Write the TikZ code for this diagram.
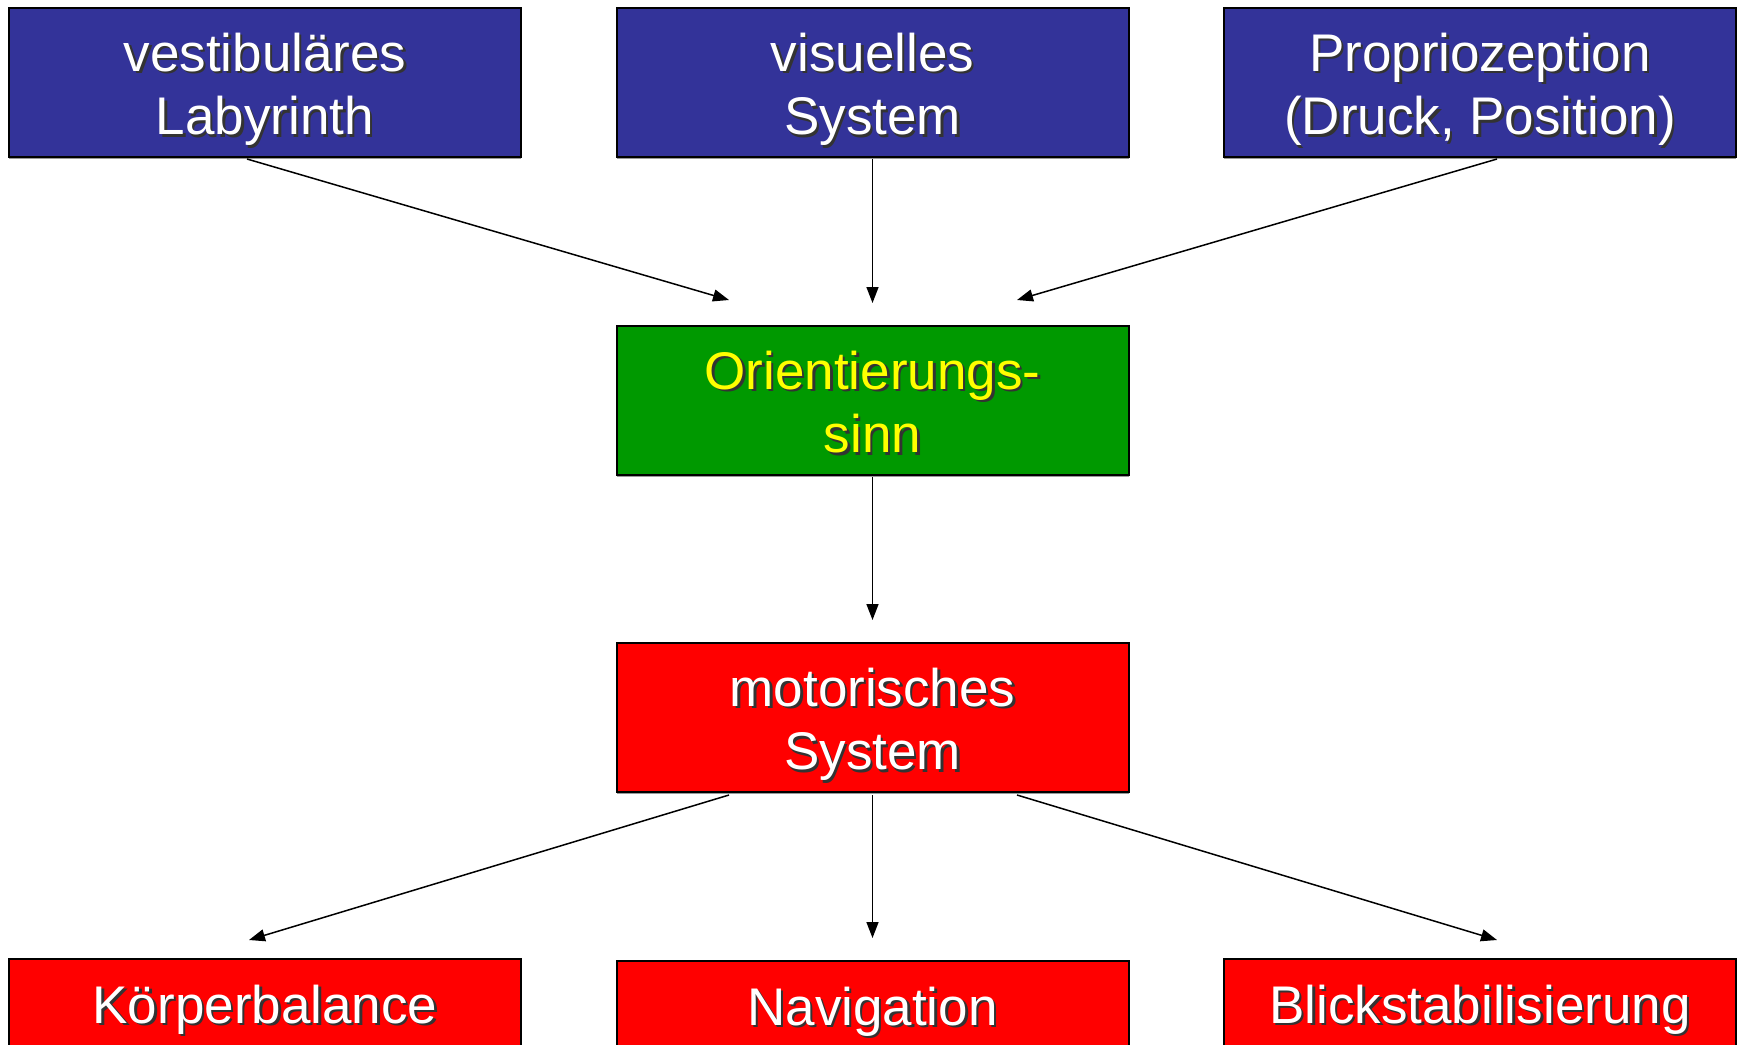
\documentclass[tikz,border=0pt]{standalone}
\usepackage{fontspec}
\setmainfont{Liberation Sans}
\usepackage{xcolor}
\usetikzlibrary{calc,arrows.meta,shadows}

\definecolor{sysblue}{HTML}{333399}
\definecolor{sinngreen}{HTML}{009900}
\definecolor{motorred}{HTML}{FF0000}
\definecolor{textyellow}{HTML}{FFFF00}

% text with a small dark shadow
\newcommand{\shtext}[1]{\leavevmode\rlap{\raisebox{-1.2pt}{\kern1.2pt\textcolor{black!80}{#1}}}#1}
% two shadowed lines, set a little low as in the slide
\newcommand{\twolines}[2]{\begin{tabular}{@{}c@{}}\rule{0pt}{30pt}\shtext{#1}\\\shtext{#2}\end{tabular}}

\begin{document}
\begin{tikzpicture}[x=0.5pt, y=-0.5pt,
    box/.style={rectangle, draw=black, line width=1pt, inner sep=0pt,
        minimum width=256pt, minimum height=74.5pt,
        font=\fontsize{26.5}{31.8}\selectfont,
        drop shadow={shadow xshift=0pt, shadow yshift=-0.9pt, fill=black!40, opacity=1}},
    sensebox/.style={box, fill=sysblue, text=white},
    sinnbox/.style={box, fill=sinngreen, text=textyellow},
    motorbox/.style={box, fill=motorred, text=white},
    outbox/.style={motorbox, minimum height=52pt},
    arr/.style={-{Triangle[length=8pt,width=6pt]}, line width=0.75pt}]
    \clip (0,0) rectangle (1745,1044);

    % input systems
    \node[sensebox] (vest) at (265,82.5) {\twolines{vestibuläres}{Labyrinth}};
    \node[sensebox] (visu) at (872.5,82.5) {\twolines{visuelles}{System}};
    \node[sensebox] (prop) at (1480,82.5) {\twolines{Propriozeption}{(Druck, Position)}};

    % orientation and motor
    \node[sinnbox] (orient) at (872.5,400.5) {\twolines{Orientierungs-}{sinn}};
    \node[motorbox] (motor) at (872.5,717.5) {\twolines{motorisches}{System}};

    % outputs (cut at the lower edge)
    \node[outbox] (balance) at (265,1011) {\shtext{Körperbalance}};
    \node[outbox] (navi) at (872.5,1013) {\shtext{Navigation}};
    \node[outbox] (blick) at (1480,1011) {\shtext{Blickstabilisierung}};

    \coordinate (inL) at (729,300);
    \coordinate (inM) at (872.5,303);
    \coordinate (inR) at (1017,300);
    \coordinate (motorin) at (872.5,620);
    \coordinate (outL) at (249,940);
    \coordinate (outM) at (872.5,938);
    \coordinate (outR) at (1497,940);

    \draw[arr] ($(vest.south)+(-18,1)$) -- (inL);
    \draw[arr] ($(visu.south)+(0,1)$) -- (inM);
    \draw[arr] ($(prop.south)+(17,1)$) -- (inR);
    \draw[arr] ($(orient.south)+(0,1)$) -- (motorin);
    \draw[arr] ($(motor.south)+(-143.5,2)$) -- (outL);
    \draw[arr] ($(motor.south)+(0,2)$) -- (outM);
    \draw[arr] ($(motor.south)+(144.5,2)$) -- (outR);
\end{tikzpicture}
\end{document}
